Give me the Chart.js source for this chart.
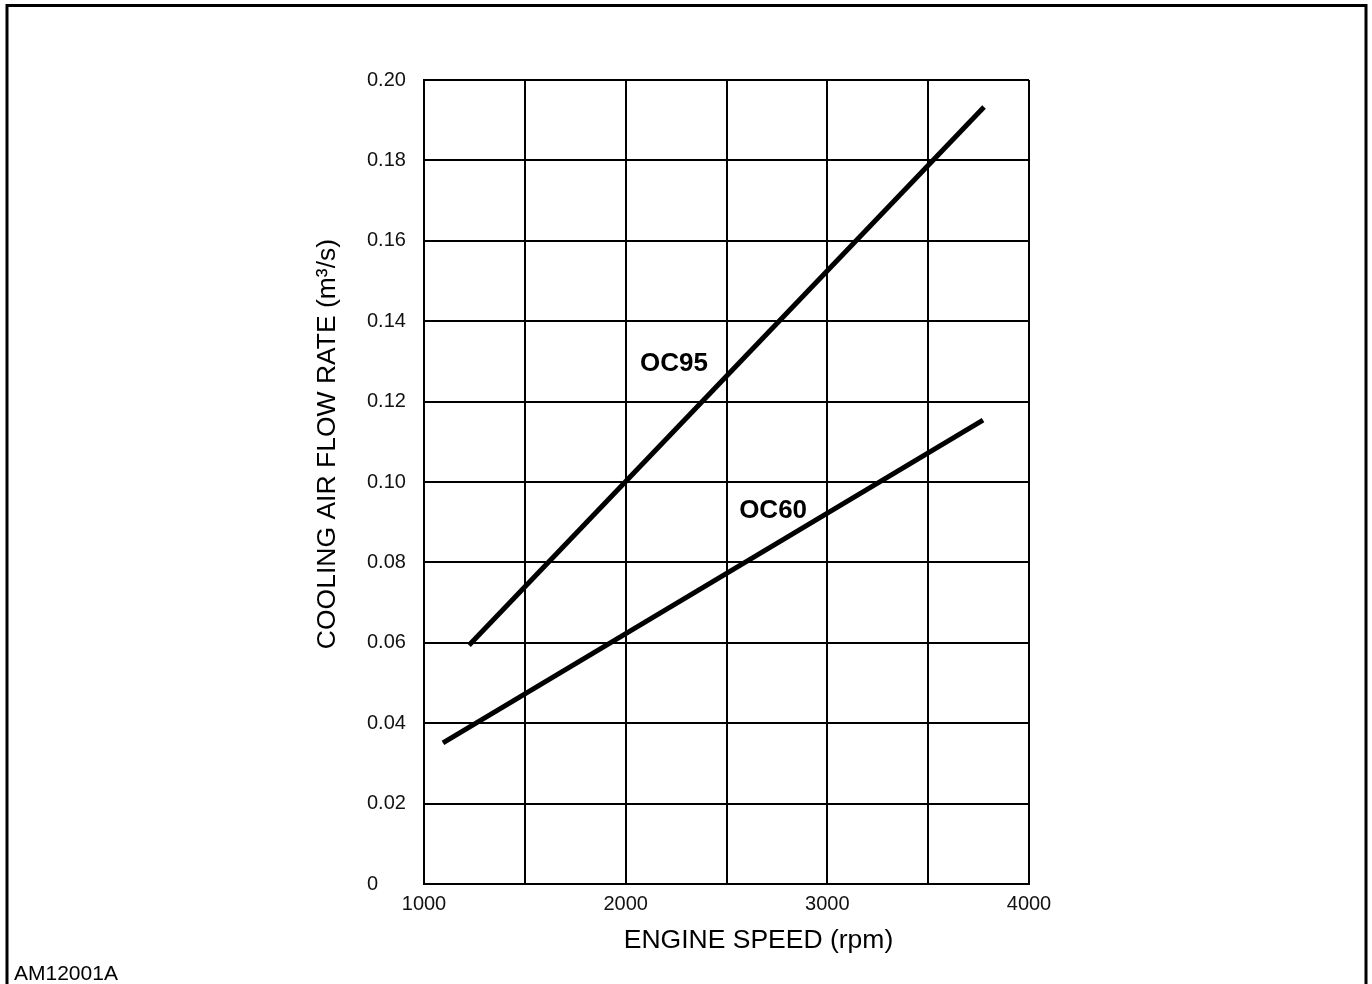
<!DOCTYPE html>
<html>
<head>
<meta charset="utf-8">
<script src="https://cdn.jsdelivr.net/npm/chart.js@4/dist/chart.umd.min.js"></script>
<style>
  html,body{margin:0;padding:0;background:#fff;overflow:hidden}
  canvas{display:block}
</style>
</head>
<body>
<canvas id="chart" width="1372" height="984"></canvas>
<script>
/* ---------- DATA ---------- */
const oc95Speed = [1223, 3777];
const oc95Flow  = [0.0594, 0.1933];
const oc60Speed = [1094, 3772];
const oc60Flow  = [0.0351, 0.1154];

const curveNames  = ["OC95", "OC60"];
const nameSpeed   = [2240, 2731];
const nameFlow    = [0.1294, 0.0929];

const xMin = 1000, xMax = 4000, xStep = 500;
const yMin = 0, yMax = 0.20, yStep = 0.02;

const xTitle = "ENGINE SPEED (rpm)";
const yTitle = "COOLING AIR FLOW RATE (m\u00b3/s)";
const figCode = "AM12001A";

const FONT = "'Liberation Sans', Arial, Helvetica, sans-serif";

/* ---------- HELPERS ---------- */
const pts = (xs, ys) => xs.map((x, i) => ({x, y: ys[i]}));

/* frame, axis titles, curve names */
const decor = {
  id: "decor",
  afterDraw(chart){
    const {ctx, chartArea:a, scales} = chart;
    ctx.save();
    ctx.fillStyle = "#000";
    ctx.strokeStyle = "#000";

    // outer frame (open at the bottom)
    ctx.lineWidth = 3;
    ctx.beginPath();
    ctx.moveTo(7, 1000); ctx.lineTo(7, 5.5); ctx.lineTo(1366, 5.5); ctx.lineTo(1366, 1000);
    ctx.stroke();

    // x title
    ctx.font = `26.5px ${FONT}`;
    ctx.textAlign = "center";
    ctx.textBaseline = "alphabetic";
    ctx.fillText(xTitle, (a.left + a.right)/2 + 32, a.bottom + 64);

    // y title
    ctx.save();
    ctx.translate(a.left - 89, (a.top + a.bottom)/2 - 38);
    ctx.rotate(-Math.PI/2);
    ctx.fillText(yTitle, 0, 0);
    ctx.restore();

    // curve names
    ctx.font = `bold 26px ${FONT}`;
    ctx.textBaseline = "middle";
    curveNames.forEach((n, i) => {
      ctx.fillText(n, scales.x.getPixelForValue(nameSpeed[i]), scales.y.getPixelForValue(nameFlow[i]));
    });

    // figure code
    ctx.font = `21px ${FONT}`;
    ctx.textAlign = "left";
    ctx.textBaseline = "alphabetic";
    ctx.fillText(figCode, 14, 980);
    ctx.restore();
  }
};

/* ---------- CHART ---------- */
new Chart(document.getElementById("chart"), {
  type: "line",
  data: {
    datasets: [
      {label: curveNames[0], data: pts(oc95Speed, oc95Flow)},
      {label: curveNames[1], data: pts(oc60Speed, oc60Flow)}
    ]
  },
  options: {
    responsive: false,
    animation: false,
    layout: {padding: {left: 367, right: 343, top: 80, bottom: 0}},
    elements: {
      line: {borderColor: "#000", borderWidth: 5, borderCapStyle: "butt", tension: 0, fill: false},
      point: {radius: 0}
    },
    plugins: {legend: {display: false}, tooltip: {enabled: false}},
    scales: {
      x: {
        type: "linear",
        min: xMin, max: xMax,
        grid: {color: "#000", lineWidth: 2, drawTicks: false},
        border: {color: "#000", width: 2},
        ticks: {
          stepSize: xStep,
          padding: 8,
          color: "#111",
          font: {family: FONT, size: 20},
          maxRotation: 0,
          autoSkip: false,
          callback: v => v % 1000 === 0 ? String(v) : ""
        },
        afterFit(s){ s.height = 100; s.paddingLeft = 0; s.paddingRight = 0; }
      },
      y: {
        type: "linear",
        min: yMin, max: yMax,
        grid: {color: "#000", lineWidth: 2, drawTicks: false},
        border: {color: "#000", width: 2},
        ticks: {
          stepSize: yStep,
          padding: 16,
          crossAlign: "far",
          color: "#111",
          font: {family: FONT, size: 20},
          autoSkip: false,
          callback: v => Math.abs(v) < 1e-9 ? "0" : v.toFixed(2)
        },
        afterFit(s){ s.width = 57; s.paddingTop = 0; s.paddingBottom = 0; }
      }
    }
  },
  plugins: [decor]
});
</script>
</body>
</html>
